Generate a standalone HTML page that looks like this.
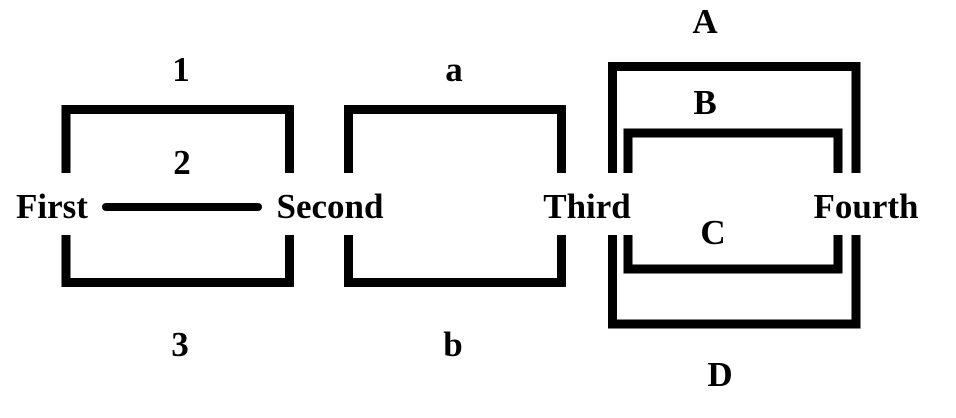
<!DOCTYPE html>
<html><head><style>html,body{margin:0;padding:0;background:#fff}svg{display:block}</style></head>
<body>
<svg width="956" height="418" viewBox="0 0 956 418" xmlns="http://www.w3.org/2000/svg">
<g fill="none" stroke="#000" stroke-width="9">
<polyline points="66,173 66,109.5 289.5,109.5 289.5,173"/>
<polyline points="66,235 66,282.5 289.5,282.5 289.5,235"/>
<polyline points="348.5,173 348.5,109.5 561.5,109.5 561.5,173"/>
<polyline points="348.5,235 348.5,282.5 561.5,282.5 561.5,235"/>
<polyline points="612.5,173 612.5,66.5 856,66.5 856,173"/>
<polyline points="612.5,235 612.5,324 856,324 856,235"/>
<polyline points="628,173 628,133 838,133 838,173"/>
<polyline points="628,235 628,269 838,269 838,235"/>
</g>
<line x1="106" y1="207" x2="258" y2="207" stroke="#000" stroke-width="8" stroke-linecap="round"/>
<g font-family="Liberation Serif, serif" font-weight="bold" font-size="35" text-anchor="middle" fill="#000">
<text x="52" y="218">First</text>
<text x="330" y="218">Second</text>
<text x="587" y="218">Third</text>
<text x="866" y="218">Fourth</text>
<text x="181" y="81">1</text>
<text x="182" y="174">2</text>
<text x="180" y="356">3</text>
<text x="454" y="81">a</text>
<text x="453" y="356">b</text>
<text x="705" y="33">A</text>
<text x="705" y="114">B</text>
<text x="713" y="244">C</text>
<text x="720" y="386">D</text>
</g>
</svg>
</body></html>
